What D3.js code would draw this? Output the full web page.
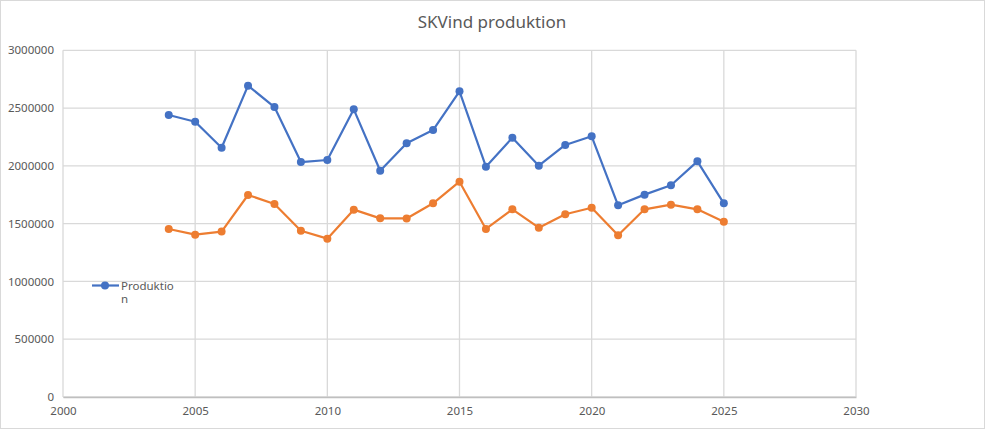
<!DOCTYPE html>
<html><head><meta charset="utf-8">
<script src="https://cdn.jsdelivr.net/npm/d3@7"></script>
<style>
body{margin:0;background:#fff;}
svg{display:block;font-family:"Noto Sans","Open Sans",sans-serif;}
</style></head>
<body><svg id="c" width="985" height="429"></svg>
<script>
const years = [2004,2005,2006,2007,2008,2009,2010,2011,2012,2013,2014,2015,2016,2017,2018,2019,2020,2021,2022,2023,2024,2025];
const produktion = [2440000,2382000,2157000,2694000,2509000,2033000,2051000,2489000,1958000,2195000,2310000,2645000,1993000,2244000,2002000,2181000,2256000,1659000,1751000,1832000,2039000,1676000];
const series2 = [1454000,1405000,1431000,1748000,1670000,1439000,1370000,1621000,1546000,1545000,1676000,1863000,1454000,1624000,1465000,1581000,1638000,1399000,1624000,1664000,1624000,1517000];
const xTicks = [2000,2005,2010,2015,2020,2025,2030];
const yTicks = [0,500000,1000000,1500000,2000000,2500000,3000000];
const title = "SKVind produktion";
const legendLabel = ["Produktio","n"];

const svg = d3.select("#c");
const grid = "#d9d9d9", txt = "#595959";
svg.append("rect").attr("x",0.5).attr("y",0.5).attr("width",984).attr("height",428).attr("fill","#fff").attr("stroke","#d9d9d9");

const L=63, R=856, T=50.3, B=397;
const x = d3.scaleLinear().domain([2000,2030]).range([L,R]);
const y = d3.scaleLinear().domain([0,3000000]).range([B,T]);

// gridlines
svg.append("g").selectAll("line").data(yTicks).join("line")
 .attr("x1",L).attr("x2",R).attr("y1",d=>y(d)).attr("y2",d=>y(d))
 .attr("stroke",grid).attr("stroke-width",1.3);
svg.append("g").selectAll("line").data(xTicks).join("line")
 .attr("y1",T).attr("y2",B).attr("x1",d=>x(d)).attr("x2",d=>x(d))
 .attr("stroke",grid).attr("stroke-width",1.3);

// axes
const ya = svg.append("g").attr("transform",`translate(${L},0)`)
 .call(d3.axisLeft(y).tickValues(yTicks).tickFormat(d3.format("d")).tickSize(0).tickPadding(9));
ya.select(".domain").remove();
ya.selectAll("text").attr("fill",txt).attr("font-size",11.5).attr("font-family","Noto Sans, sans-serif");
const xa = svg.append("g").attr("transform",`translate(0,${B})`)
 .call(d3.axisBottom(x).tickValues(xTicks).tickFormat(d3.format("d")).tickSize(0).tickPadding(10));
xa.select(".domain").attr("stroke","#bfbfbf").attr("stroke-width",1.3);
xa.selectAll("text").attr("fill",txt).attr("font-size",11.5).attr("font-family","Noto Sans, sans-serif");

// title
svg.append("text").attr("x",492).attr("y",28).attr("text-anchor","middle")
 .attr("fill",txt).attr("font-size",17).text(title);

function drawSeries(vals,color){
  const pts = years.map((yr,i)=>[yr,vals[i]]);
  svg.append("path").datum(pts)
   .attr("d",d3.line().x(d=>x(d[0])).y(d=>y(d[1])))
   .attr("fill","none").attr("stroke",color).attr("stroke-width",2.2).attr("stroke-linejoin","round");
  svg.append("g").selectAll("circle").data(pts).join("circle")
   .attr("cx",d=>x(d[0])).attr("cy",d=>y(d[1])).attr("r",4).attr("fill",color);
}
drawSeries(series2,"#ed7d31");
drawSeries(produktion,"#4472c4");

// legend
const lg = svg.append("g");
lg.append("line").attr("x1",92).attr("x2",119).attr("y1",285.5).attr("y2",285.5).attr("stroke","#4472c4").attr("stroke-width",2.2);
lg.append("circle").attr("cx",105).attr("cy",285.5).attr("r",4).attr("fill","#4472c4");
lg.selectAll("text").data(legendLabel).join("text")
 .attr("x",121).attr("y",(d,i)=>289.5+i*13.5).attr("fill",txt).attr("font-size",11.5).text(d=>d);
</script></body></html>
